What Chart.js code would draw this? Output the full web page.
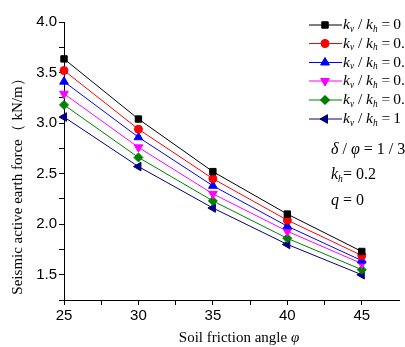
<!DOCTYPE html>
<html lang="en">
<head>
  <meta charset="UTF-8">
  <title>Seismic active earth force</title>
  <script src="https://cdn.jsdelivr.net/npm/chart.js"></script>
  <style>
    body { margin: 0; background: #fff; }
    .wrap { width: 405px; height: 347px; }
  </style>
</head>
<body>
  <div class="wrap"><canvas id="forceChart" width="405" height="347"></canvas></div>

  <script>
    // friction angle (deg) and kv/kh ratios
    const angles = [25, 30, 35, 40, 45];
    const ratios = ['0', '0.2', '0.4', '0.6', '0.8', '1'];

    // seismic active earth force (kN/m) per kv/kh ratio
    const force0  = [3.635, 3.04, 2.52, 2.10, 1.73];
    const force02 = [3.52, 2.94, 2.45, 2.04, 1.69];
    const force04 = [3.41, 2.86, 2.38, 1.98, 1.64];
    const force06 = [3.29, 2.76, 2.30, 1.93, 1.61];
    const force08 = [3.18, 2.66, 2.23, 1.86, 1.55];
    const force1  = [3.06, 2.57, 2.16, 1.80, 1.50];

    const yTickLabels = [1.5, 2.0, 2.5, 3.0, 3.5, 4.0];
    const xTickLabels = [25, 30, 35, 40, 45];

    const series = [force0, force02, force04, force06, force08, force1];
    const colors = ['#000000', '#ff0000', '#0000ff', '#ff00ff', '#008000', '#000080'];
    const markers = [
      { style: 'rect', rot: 0, r: 4.5 },
      { style: 'circle', rot: 0, r: 4 },
      { style: 'triangle', rot: 0, r: 5 },
      { style: 'triangle', rot: 180, r: 5 },
      { style: 'rectRot', rot: 0, r: 4.5 },
      { style: 'triangle', rot: -90, r: 5 }
    ];

    const serif = '"Liberation Serif", "DejaVu Serif", serif';

    // draw a run of text pieces: {t, it (italic), sub}
    function drawRich(ctx, parts, x, y, size) {
      let cx = x;
      parts.forEach(p => {
        const fs = p.sub ? size * 0.6 : size;
        ctx.font = (p.it ? 'italic ' : '') + fs + 'px ' + serif;
        ctx.fillText(p.t, cx, p.sub ? y + size * 0.28 : y);
        cx += ctx.measureText(p.t).width;
      });
    }

    const overlay = {
      id: 'overlay',
      afterDraw(chart) {
        const ctx = chart.ctx;
        ctx.save();
        ctx.fillStyle = '#000';
        ctx.textBaseline = 'middle';
        ctx.textAlign = 'left';

        // legend
        const rowY = [25, 43.5, 62.5, 81, 100, 119];
        ratios.forEach((r, i) => {
          const y = rowY[i];
          ctx.strokeStyle = colors[i];
          ctx.lineWidth = 1;
          ctx.beginPath();
          ctx.moveTo(309, y);
          ctx.lineTo(342, y);
          ctx.stroke();
          Chart.helpers.drawPoint(ctx, {
            pointStyle: markers[i].style,
            rotation: markers[i].rot,
            radius: markers[i].r,
            borderWidth: 1
          }, 325, y);
          ctx.fillStyle = colors[i];
          ctx.fill();
          ctx.fillStyle = '#000';
          drawRich(ctx, [
            { t: 'k', it: true }, { t: 'v', it: true, sub: true },
            { t: ' / ' },
            { t: 'k', it: true }, { t: 'h', it: true, sub: true },
            { t: ' =\u2009' + r }
          ], 343, y, 15.5);
        });

        // parameter notes
        drawRich(ctx, [{ t: 'δ', it: true }, { t: ' / ' }, { t: 'φ', it: true }, { t: ' = 1 / 3' }], 331, 150, 16);
        drawRich(ctx, [{ t: 'k', it: true }, { t: 'h', it: true, sub: true }, { t: '= 0.2' }], 331, 175, 16);
        drawRich(ctx, [{ t: 'q', it: true }, { t: ' = 0' }], 331, 201, 16);

        // axis titles
        const xParts = [{ t: 'Soil friction angle ' }, { t: 'φ', it: true }];
        let w = 0;
        xParts.forEach(p => {
          ctx.font = (p.it ? 'italic ' : '') + '15px ' + serif;
          w += ctx.measureText(p.t).width;
        });
        drawRich(ctx, xParts, 239 - w / 2, 338, 15);

        ctx.save();
        ctx.translate(18, 183);
        ctx.rotate(-Math.PI / 2);
        ctx.textAlign = 'center';
        ctx.font = '15px ' + serif;
        ctx.fillText('Seismic active earth force（ kN/m）', 0, 0);
        ctx.restore();

        ctx.restore();
      }
    };

    const datasets = series.map((vals, i) => ({
      label: 'kv/kh = ' + ratios[i],
      data: angles.map((a, j) => ({ x: a, y: vals[j] })),
      borderColor: colors[i],
      backgroundColor: colors[i],
      borderWidth: 1,
      pointStyle: markers[i].style,
      rotation: markers[i].rot,
      pointRadius: markers[i].r,
      pointBorderWidth: 1,
      tension: 0,
      clip: false
    }));

    const axisFont = { family: '"Liberation Sans", Arial, sans-serif', size: 15 };

    new Chart(document.getElementById('forceChart'), {
      type: 'line',
      data: { datasets },
      options: {
        responsive: false,
        animation: false,
        layout: { padding: { top: 22, right: 0, left: 0, bottom: 0 } },
        plugins: { legend: { display: false }, tooltip: { enabled: false } },
        scales: {
          x: {
            type: 'linear',
            min: 25,
            max: 47.5,
            afterBuildTicks(scale) {
              scale.ticks = scale.ticks.filter(t => t.value < 47.5);
            },
            afterFit(scale) { scale.height = 47; },
            ticks: {
              stepSize: 2.5,
              autoSkip: false,
              maxRotation: 0,
              color: '#000',
              font: axisFont,
              padding: 2,
              callback: v => xTickLabels.includes(v) ? String(v) : ''
            },
            grid: { drawOnChartArea: false, drawTicks: true, tickLength: 5, color: '#000' },
            border: { color: '#000', width: 1 }
          },
          y: {
            min: 1.25,
            max: 4.0,
            afterFit(scale) { scale.width = 64; },
            ticks: {
              stepSize: 0.25,
              autoSkip: false,
              color: '#000',
              font: axisFont,
              padding: 2,
              callback: v => yTickLabels.includes(v) ? v.toFixed(1) : ''
            },
            grid: { drawOnChartArea: false, drawTicks: true, tickLength: 5, color: '#000' },
            border: { color: '#000', width: 1 }
          }
        }
      },
      plugins: [overlay]
    });
  </script>
</body>
</html>
